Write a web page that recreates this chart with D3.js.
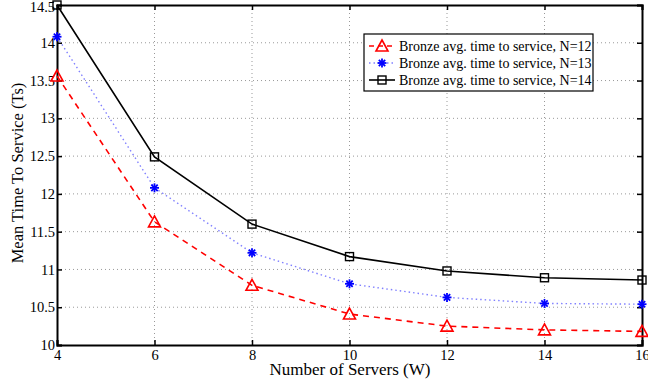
<!DOCTYPE html>
<html>
<head>
<meta charset="utf-8">
<script src="https://cdn.jsdelivr.net/npm/d3@7.9.0/dist/d3.min.js"></script>
<style>
  body { margin: 0; background: #fff; }
  text { font-family: "Liberation Serif", "Times New Roman", serif; }
</style>
</head>
<body>
<div id="chart"></div>
<script>
// servers (W) on the x axis
const servers = [4, 6, 8, 10, 12, 14, 16];
// mean time to service for each N
const bronzeN12 = [13.56, 11.63, 10.79, 10.41, 10.25, 10.20, 10.18];
const bronzeN13 = [14.08, 12.08, 11.22, 10.81, 10.63, 10.55, 10.54];
const bronzeN14 = [14.50, 12.49, 11.60, 11.17, 10.98, 10.89, 10.86];
const xTicks = [4, 6, 8, 10, 12, 14, 16];
const yTicks = [10, 10.5, 11, 11.5, 12, 12.5, 13, 13.5, 14, 14.5];
const legendLabels = [
  "Bronze avg. time to service, N=12",
  "Bronze avg. time to service, N=13",
  "Bronze avg. time to service, N=14"
];

const W = 648, H = 385;
const margin = { top: 5, right: 6, bottom: 40, left: 57 };
const width = W - margin.left - margin.right,
      height = H - margin.top - margin.bottom;

const svg = d3.select("#chart").append("svg")
  .attr("width", W).attr("height", H);
const g = svg.append("g")
  .attr("transform", `translate(${margin.left},${margin.top})`);

const x = d3.scaleLinear().domain([4, 16]).range([0, width]);
const y = d3.scaleLinear().domain([10, 14.5]).range([height, 0]);

// grid
g.append("g").selectAll("line").data(xTicks.slice(1, -1)).join("line")
  .attr("x1", d => x(d)).attr("x2", d => x(d))
  .attr("y1", 0).attr("y2", height)
  .attr("stroke", "#999").attr("stroke-width", 1)
  .attr("stroke-dasharray", "1,3");
g.append("g").selectAll("line").data(yTicks.slice(1, -1)).join("line")
  .attr("x1", 0).attr("x2", width)
  .attr("y1", d => y(d)).attr("y2", d => y(d))
  .attr("stroke", "#999").attr("stroke-width", 1)
  .attr("stroke-dasharray", "1,3");

// axes (ticks inward)
const xAxis = g.append("g")
  .attr("transform", `translate(0,${height})`)
  .call(d3.axisBottom(x).tickValues(xTicks).tickSize(-5).tickPadding(5).tickFormat(d3.format("d")));
const xAxisTop = g.append("g")
  .call(d3.axisTop(x).tickValues(xTicks).tickSize(-5).tickFormat(""));
const yAxis = g.append("g")
  .call(d3.axisLeft(y).tickValues(yTicks).tickSize(-5).tickPadding(2).tickFormat(d => String(d)));
const yAxisRight = g.append("g")
  .attr("transform", `translate(${width},0)`)
  .call(d3.axisRight(y).tickValues(yTicks).tickSize(-5).tickFormat(""));

[xAxis, xAxisTop, yAxis, yAxisRight].forEach(a => {
  a.select(".domain").attr("stroke", "#000").attr("stroke-width", 2);
  a.selectAll(".tick line").attr("stroke", "#000").attr("stroke-width", 1.5);
  a.selectAll(".tick text").attr("font-size", 14.5).attr("fill", "#000")
    .style("font-family", "'Liberation Serif', serif");
});
// keep the top label inside the picture
yAxis.selectAll(".tick text").filter(d => d === 14.5).attr("dy", "0.42em");

// axis labels
g.append("text")
  .attr("x", 293).attr("y", height + 30)
  .attr("text-anchor", "middle").attr("font-size", 17)
  .text("Number of Servers (W)");
g.append("text")
  .attr("transform", "rotate(-90)")
  .attr("x", -168).attr("y", -34)
  .attr("text-anchor", "middle").attr("font-size", 16.5)
  .text("Mean Time To Service (Ts)");

const series = [
  { vals: bronzeN12, color: "#ff0000", dash: "6,5", width: 1.6, marker: "tri" },
  { vals: bronzeN13, color: "#8080ff", dash: "1.5,3", width: 1.4, marker: "star", mcolor: "#0000ff" },
  { vals: bronzeN14, color: "#000000", dash: null, width: 1.6, marker: "sq" }
];

const line = d3.line().x(d => x(d[0])).y(d => y(d[1]));

function drawMarker(sel, type, color, cx, cy) {
  if (type === "tri") {
    sel.append("path")
      .attr("d", `M${cx},${cy - 6}L${cx + 6},${cy + 5}L${cx - 6},${cy + 5}Z`)
      .attr("fill", "none").attr("stroke", color).attr("stroke-width", 1.6);
  } else if (type === "sq") {
    sel.append("rect")
      .attr("x", cx - 4).attr("y", cy - 4).attr("width", 8).attr("height", 8)
      .attr("fill", "none").attr("stroke", color).attr("stroke-width", 1.4);
  } else {
    const r = 4.5;
    [0, 45, 90, 135].forEach(a => {
      const rad = a * Math.PI / 180;
      sel.append("line")
        .attr("x1", cx - r * Math.cos(rad)).attr("y1", cy - r * Math.sin(rad))
        .attr("x2", cx + r * Math.cos(rad)).attr("y2", cy + r * Math.sin(rad))
        .attr("stroke", color).attr("stroke-width", 1.8);
    });
  }
}

series.forEach(s => {
  const pts = servers.map((w, i) => [w, s.vals[i]]);
  g.append("path").datum(pts)
    .attr("fill", "none").attr("stroke", s.color)
    .attr("stroke-width", s.width)
    .attr("stroke-dasharray", s.dash)
    .attr("d", line);
  const mg = g.append("g");
  pts.forEach(p => drawMarker(mg, s.marker, s.mcolor || s.color, x(p[0]), y(p[1])));
});

// legend
const lg = svg.append("g").attr("transform", "translate(364,34)");
lg.append("rect").attr("width", 229).attr("height", 57)
  .attr("fill", "#fff").attr("stroke", "#000").attr("stroke-width", 1.2);
series.forEach((s, i) => {
  const cy = 12 + i * 17;
  lg.append("line").attr("x1", 5).attr("x2", 31).attr("y1", cy).attr("y2", cy)
    .attr("stroke", s.color).attr("stroke-width", s.width)
    .attr("stroke-dasharray", s.dash ? (i === 0 ? "5,4" : "1.5,3") : null);
  drawMarker(lg, s.marker, s.mcolor || s.color, 18, cy);
  lg.append("text").attr("x", 35).attr("y", cy + 4.5)
    .attr("font-size", 14).text(legendLabels[i]);
});
</script>
</body>
</html>
